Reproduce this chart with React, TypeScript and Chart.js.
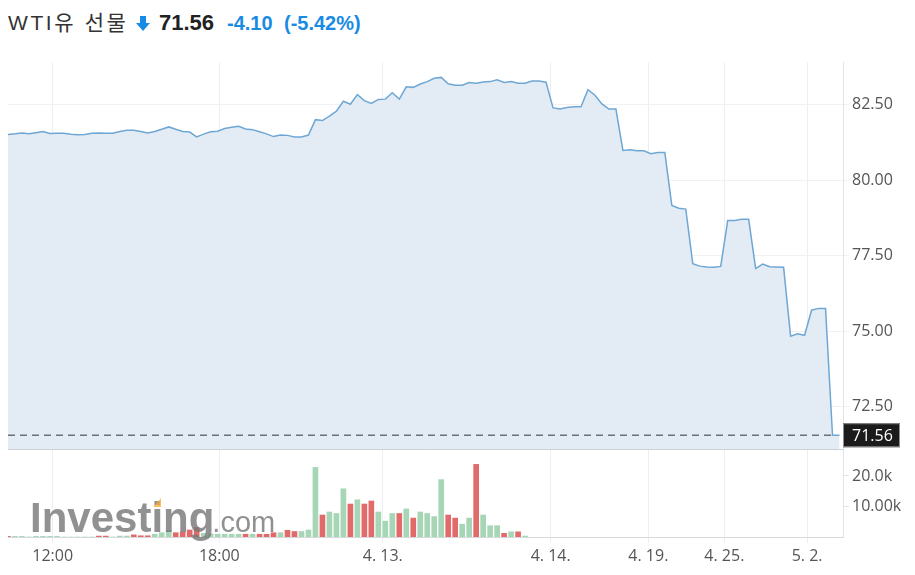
import React, { useEffect, useRef } from "react";
import { Chart, registerables } from "chart.js";

Chart.register(...registerables);

// ---------- data ----------
const titleText = "WTI유 선물";
const lastPriceText = "71.56";
const changeText = "-4.10";
const changePctText = "(-5.42%)";
const lastPrice = 71.56;

const prices = [
  81.52, 81.54, 81.57, 81.54, 81.58, 81.62, 81.55, 81.56, 81.56, 81.53,
  81.51, 81.52, 81.56, 81.57, 81.56, 81.56, 81.62, 81.66, 81.66, 81.62,
  81.57, 81.62, 81.69, 81.77, 81.69, 81.62, 81.6, 81.44, 81.53, 81.61,
  81.63, 81.72, 81.76, 81.79, 81.7, 81.68, 81.61, 81.54, 81.45, 81.5,
  81.49, 81.44, 81.44, 81.5, 82.01, 81.98, 82.13, 82.29, 82.62, 82.52,
  82.84, 82.64, 82.55, 82.68, 82.69, 82.9, 82.69, 83.1, 83.08, 83.19,
  83.27, 83.38, 83.41, 83.2, 83.15, 83.15, 83.24, 83.22, 83.26, 83.27,
  83.33, 83.24, 83.27, 83.22, 83.22, 83.29, 83.29, 83.25, 82.4, 82.36,
  82.41, 82.44, 82.44, 83.0, 82.82, 82.53, 82.36, 82.36, 80.99, 81.01,
  80.98, 80.98, 80.88, 80.92, 80.92, 79.17, 79.08, 79.05, 77.24, 77.16,
  77.13, 77.12, 77.15, 78.67, 78.67, 78.71, 78.71, 77.08, 77.23, 77.14,
  77.13, 77.12, 74.84, 74.92, 74.87, 75.7, 75.76, 75.76, 71.56, 71.56,
];

const volumes = [
  200, 200, 200, 0, 200, 200, 200, 200, 0, 0,
  0, 0, 0, 300, 300, 0, 300, 300, 700, 400,
  400, 900, 1400, 2200, 1400, 1600, 2300, 3100, 1200, 1000,
  900, 900, 900, 900, 900, 900, 900, 900, 1400, 1400,
  2200, 1800, 1800, 2300, 22800, 7200, 8200, 7700, 15800, 10800,
  12200, 10800, 11800, 8200, 5200, 7700, 7700, 9200, 6200, 8200,
  7700, 6700, 18800, 7200, 6200, 4200, 6200, 23800, 7200, 3700,
  3700, 1200, 1700, 1700, 300,
];
// g = up (green), r = down (red)
const volumeSide = [
  "r", "g", "g", "g", "g", "g", "g", "g", "g", "g",
  "g", "g", "g", "r", "r", "g", "g", "g", "r", "r",
  "r", "g", "g", "g", "r", "r", "r", "r", "g", "g",
  "g", "g", "g", "g", "r", "g", "r", "r", "r", "g",
  "r", "r", "g", "g", "g", "r", "g", "g", "g", "r",
  "g", "r", "r", "g", "g", "g", "r", "g", "r", "g",
  "g", "g", "g", "r", "r", "g", "g", "r", "g", "g",
  "g", "r", "g", "r", "g",
];

const xTickPositions = [6.4, 30.24, 53.63, 77.67, 91.64, 102.52, 114.36];
const xTickLabels = ["12:00", "18:00", "4. 13.", "4. 14.", "4. 19.", "4. 25.", "5. 2."];
const priceTicks = [72.5, 75, 77.5, 80, 82.5];
const volumeTicks = [10000, 20000];
const volumeTickLabels = ["10.00k", "20.0k"];

// ---------- styles ----------
const LINE = "#6fa7d4";
const FILL = "#e3ecf4";
const GREEN = "#a6d6b6";
const RED = "#e16a6a";
const TICK_COLOR = "#555555";
const TICK_FONT = { family: '"Open Sans", sans-serif', size: 16 };

export default function App() {
  const ref = useRef<HTMLCanvasElement | null>(null);

  useEffect(() => {
    if (!ref.current) return;
    const lineData = prices.map((p, i) => ({ x: i, y: p }));
    const barData = volumes.map((v, i) => ({ x: i, y: v }));
    const barColors = volumeSide.map((s) => (s === "g" ? GREEN : RED));

    const overlay = {
      id: "overlay",
      afterDatasetsDraw(chart: any) {
        const { ctx, chartArea } = chart;
        const y = chart.scales.y;
        const yv = chart.scales.yv;
        ctx.save();
        // separator between panels
        ctx.strokeStyle = "#cdd1d6";
        ctx.lineWidth = 1;
        ctx.beginPath();
        ctx.moveTo(chartArea.left, Math.round(y.bottom) + 0.5);
        ctx.lineTo(chartArea.right, Math.round(y.bottom) + 0.5);
        ctx.stroke();

        // dashed last-price line
        const py = y.getPixelForValue(lastPrice);
        ctx.strokeStyle = "#6c7177";
        ctx.lineWidth = 1.5;
        ctx.setLineDash([7, 5]);
        ctx.beginPath();
        ctx.moveTo(chartArea.left, py);
        ctx.lineTo(chartArea.right - 8, py);
        ctx.stroke();
        ctx.setLineDash([]);

        // watermark
        const wx = chartArea.left + 22;
        const wy = yv.bottom - 5;
        ctx.save();
        ctx.filter = "blur(0.7px)";
        ctx.fillStyle = "rgba(118,118,118,0.8)";
        ctx.textBaseline = "alphabetic";
        ctx.textAlign = "left";
        ctx.font = 'bold 42px "Liberation Sans", Arial, sans-serif';
        const w1 = ctx.measureText("Investing").width;
        ctx.fillText("Investing", wx, wy);
        ctx.font = '29px "Liberation Sans", Arial, sans-serif';
        ctx.fillText(".com", wx + w1 - 2, wy);
        ctx.fillStyle = "rgba(250,175,50,0.75)";
        ctx.beginPath();
        ctx.moveTo(wx + 123, wy - 25);
        ctx.lineTo(wx + 131, wy - 25);
        ctx.lineTo(wx + 131, wy - 34);
        ctx.closePath();
        ctx.fill();
        ctx.restore();

        // price tag
        const tx = chartArea.right;
        ctx.fillStyle = "#1b1b1b";
        ctx.fillRect(tx, py - 12, 57, 24);
        ctx.strokeStyle = "#8e8e8e";
        ctx.lineWidth = 1;
        ctx.strokeRect(tx + 0.5, py - 11.5, 56, 23);
        ctx.fillStyle = "#ffffff";
        ctx.font = '16px "Open Sans", sans-serif';
        ctx.textBaseline = "middle";
        ctx.fillText(lastPriceText, tx + 9, py + 1);
        ctx.restore();
      },
    };

    const chart = new Chart(ref.current, {
      type: "line",
      data: {
        datasets: [
          {
            type: "line",
            data: lineData,
            xAxisID: "x",
            yAxisID: "y",
            borderColor: LINE,
            borderWidth: 1.5,
            backgroundColor: FILL,
            fill: "start",
            pointRadius: 0,
            tension: 0,
            order: 2,
          },
          {
            type: "bar",
            data: barData,
            xAxisID: "x",
            yAxisID: "yv",
            backgroundColor: barColors,
            barThickness: 5,
            borderWidth: 0,
            order: 1,
          },
        ] as any,
      },
      options: {
        animation: false,
        responsive: false,
        maintainAspectRatio: false,
        layout: { padding: { top: 12, left: 0, right: 0, bottom: 0 } },
        plugins: { legend: { display: false }, tooltip: { enabled: false } },
        scales: {
          x: {
            type: "linear",
            min: 0,
            max: 119.5,
            offset: false,
            grid: { color: "#eceef2", tickLength: 6, offset: false },
            border: { color: "#d5d8dd" },
            afterBuildTicks: (s: any) => {
              s.ticks = xTickPositions.map((v) => ({ value: v }));
            },
            afterFit: (s: any) => {
              s.height = 30;
            },
            ticks: {
              autoSkip: false,
              maxRotation: 0,
              padding: 4,
              color: TICK_COLOR,
              font: TICK_FONT,
              callback: (_v: any, i: number) => xTickLabels[i],
            },
          },
          y: {
            type: "linear",
            position: "right",
            stack: "main",
            stackWeight: 387,
            min: 71.1,
            max: 83.9,
            grid: { color: "#f1f1f3", tickLength: 6 },
            border: { color: "#e1e4e8" },
            afterBuildTicks: (s: any) => {
              s.ticks = priceTicks.map((v) => ({ value: v }));
            },
            afterFit: (s: any) => {
              s.width = 64;
            },
            ticks: {
              padding: 3,
              color: TICK_COLOR,
              font: TICK_FONT,
              callback: (v: any) => Number(v).toFixed(2),
            },
          },
          yv: {
            type: "linear",
            position: "right",
            stack: "main",
            stackWeight: 88,
            min: 0,
            max: 28800,
            grid: { drawOnChartArea: false, color: "#e1e4e8", tickLength: 6 },
            border: { color: "#e1e4e8" },
            afterBuildTicks: (s: any) => {
              s.ticks = volumeTicks.map((v) => ({ value: v }));
            },
            afterFit: (s: any) => {
              s.width = 64;
            },
            ticks: {
              padding: 3,
              color: TICK_COLOR,
              font: TICK_FONT,
              callback: (_v: any, i: number) => volumeTickLabels[i],
            },
          },
        } as any,
      },
      plugins: [overlay],
    });
    return () => chart.destroy();
  }, []);

  const base: React.CSSProperties = {
    position: "absolute",
    top: 1,
    lineHeight: "28px",
    whiteSpace: "nowrap",
    fontFamily: '"Liberation Sans", Arial, "Noto Sans CJK KR", sans-serif',
  };

  return (
    <div>
      <div style={{ position: "relative", height: 42 }}>
        <span style={{ ...base, left: 0, fontSize: 21, color: "#333333", letterSpacing: "2.6px" }}>
          {titleText}
        </span>
        <svg
          style={{ position: "absolute", left: 128, top: 8 }}
          width="14"
          height="15"
          viewBox="0 0 14 15"
        >
          <path d="M4 0 H10 V7 H14 L7 15 L0 7 H4 Z" fill="#1a8be3" />
        </svg>
        <span style={{ ...base, left: 151, fontSize: 22, fontWeight: "bold", color: "#222222" }}>
          {lastPriceText}
        </span>
        <span style={{ ...base, left: 219, fontSize: 20, fontWeight: "bold", color: "#1a8be3" }}>
          {changeText}
        </span>
        <span style={{ ...base, left: 276, fontSize: 20, fontWeight: "bold", color: "#1a8be3" }}>
          {changePctText}
        </span>
      </div>
      <canvas ref={ref} width={899} height={517} style={{ display: "block" }} />
    </div>
  );
}
